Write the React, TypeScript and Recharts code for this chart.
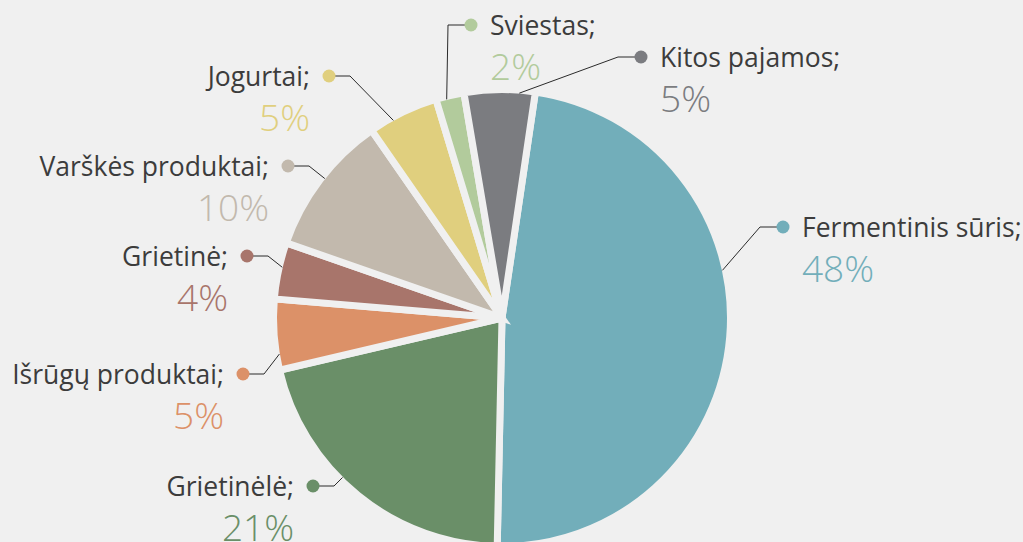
import { PieChart, Pie, Cell } from 'recharts'

const categories = [
  'Fermentinis sūris',
  'Grietinėlė',
  'Išrūgų produktai',
  'Grietinė',
  'Varškės produktai',
  'Jogurtai',
  'Sviestas',
  'Kitos pajamos',
]
const shares = [48, 21, 5, 4, 10, 5, 2, 5]
const colors = ['#72aeba', '#6a8f68', '#dc9168', '#a8756b', '#c2b9ad', '#e0cf7e', '#b2cb9c', '#7b7c80']

// label dot offsets from the pie centre, and leader line angle nudges (deg)
const labelDots: [number, number][] = [
  [281, -91],
  [-189, 168],
  [-259, 56],
  [-255, -62],
  [-214, -152],
  [-173, -242],
  [-31, -293],
  [139, -261],
]
const lineNudge = [17, -6, 5, -1, -1, 3, 1, -5]

const data = categories.map((name, i) => ({ name, value: shares[i] }))

const BG = '#f0f0f0'
const TEXT = '#3c3c3c'
const FONT = '"Open Sans", "Noto Sans", sans-serif'
const RAD = Math.PI / 180

const renderLabel = (props: any) => {
  const { cx, cy, midAngle, outerRadius, index, value } = props
  const ang = (midAngle + lineNudge[index]) * RAD
  const r = outerRadius - 3
  const sx = cx + r * Math.cos(-ang)
  const sy = cy + r * Math.sin(-ang)
  const dx = cx + labelDots[index][0]
  const dy = cy + labelDots[index][1]
  const right = dx > sx
  const ex = right ? dx - 23 : dx + 21
  const tx = right ? dx + 19 : dx - 19
  const anchor = right ? 'start' : 'end'
  return (
    <g key={`lbl-${index}`}>
      <polyline
        points={`${sx},${sy} ${ex},${dy} ${dx},${dy}`}
        fill="none"
        stroke="#2b2b2b"
        strokeWidth={1}
      />
      <circle cx={dx} cy={dy} r={6.5} fill={colors[index]} />
      <text x={tx} y={dy + 10} textAnchor={anchor} fill={TEXT} fontSize={26.5} fontFamily={FONT}>
        {categories[index]};
      </text>
      <text
        x={tx}
        y={dy + 55}
        textAnchor={anchor}
        fill={colors[index]}
        fontSize={37}
        fontWeight={300}
        fontFamily={FONT}
      >
        {value}%
      </text>
    </g>
  )
}

const App = () => {
  return (
    <div style={{ position: 'absolute', left: 0, top: 0, width: 1023, height: 542, background: BG }}>
      <PieChart width={1023} height={542} margin={{ top: 0, right: 0, bottom: 0, left: 0 }}>
        <Pie
          data={data}
          dataKey="value"
          nameKey="name"
          cx={502}
          cy={318}
          outerRadius={228.5}
          startAngle={81.6}
          endAngle={-278.4}
          stroke={BG}
          strokeWidth={7}
          label={renderLabel}
          labelLine={false}
          isAnimationActive={false}
        >
          {data.map((d, i) => (
            <Cell key={d.name} fill={colors[i]} />
          ))}
        </Pie>
      </PieChart>
    </div>
  )
}

export default App
